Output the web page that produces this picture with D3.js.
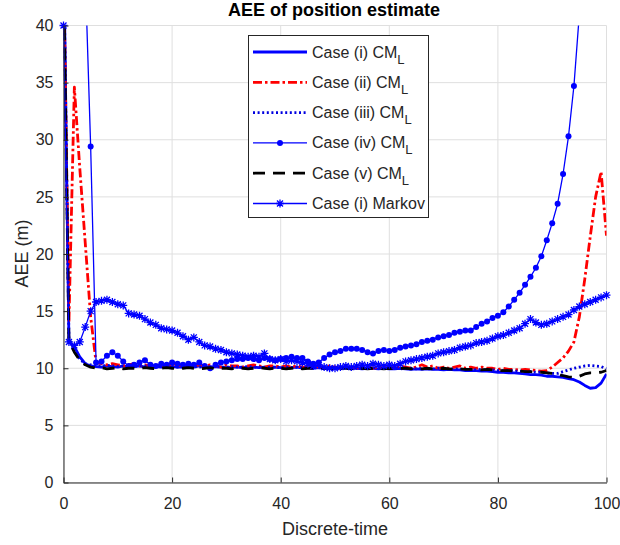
<!DOCTYPE html>
<html><head><meta charset="utf-8">
<script src="https://cdn.jsdelivr.net/npm/d3@7"></script>
<style>
body{margin:0;background:#fff}
svg{display:block}
text{font-family:"Liberation Sans",Arial,Helvetica,sans-serif}
</style>
</head><body>
<svg id="chart" width="620" height="545"></svg>
<script>
// ---- data ----
const timeSteps = d3.range(0, 101);
const xTicks = [0, 20, 40, 60, 80, 100];
const yTicks = [0, 5, 10, 15, 20, 25, 30, 35, 40];

const caseI = [48,12.3,11.9,11.0,10.4,10.2,
10.15,10.1,10.2,10.15,10.1,10.2,10.1,10.15,10.2,10.1,
10.1,10.15,10.1,10.2,10.15,10.1,10.1,10.15,10.1,10.2,
10.1,10.1,10.15,10.1,10.05,10.1,10.1,10.05,10.1,10.1,
10.05,10.1,10.05,10.1,10.05,10.0,10.05,10.1,10.0,10.05,
10.0,10.05,10.0,10.05,10.0,10.0,10.05,10.0,10.0,9.95,
10.0,10.0,9.95,10.0,9.95,9.95,10.0,9.95,9.9,9.95,
9.9,9.95,9.9,9.9,9.85,9.9,9.85,9.85,9.8,9.8,
9.8,9.75,9.75,9.7,9.65,9.65,9.6,9.6,9.55,9.5,
9.45,9.45,9.4,9.3,9.3,9.25,9.2,9.1,9.0,8.8,
8.5,8.25,8.3,8.7,9.5];

const caseII = [46,14,34.6,27.5,21,14.5,
10.5,10.4,10.3,10.4,10.3,10.2,10.3,10.4,10.2,10.3,
10.2,10.3,10.2,10.2,10.4,10.3,10.2,10.3,10.2,10.3,
10.2,10.3,10.2,10.1,10.3,10.2,10.2,10.1,10.2,10.3,
10.2,10.1,10.2,10.2,10.1,10.2,10.1,10.2,10.1,10.1,
10.2,10.1,10.1,10.2,10.1,10.0,10.1,10.1,10.0,10.1,
10.1,10.0,10.1,10.1,10.0,10.1,10.2,10.1,10.0,10.1,
10.3,10.1,10.2,10.0,10.1,10.0,10.1,10.2,10.0,10.1,
10.0,10.1,10.0,10.0,9.9,10.0,9.9,9.9,9.85,9.9,
9.85,9.8,9.75,9.8,10.1,10.5,10.9,11.5,12.3,14.5,
17.8,21.5,25.0,27.2,21.6];

const caseIII = [47,12.6,11.6,10.8,10.4,10.3,
10.2,10.2,10.25,10.2,10.15,10.2,10.2,10.15,10.2,10.2,
10.15,10.2,10.15,10.2,10.15,10.1,10.15,10.2,10.15,10.1,
10.15,10.1,10.15,10.1,10.1,10.15,10.1,10.1,10.15,10.1,
10.1,10.05,10.1,10.1,10.05,10.1,10.05,10.1,10.05,10.05,
10.1,10.05,10.0,10.05,10.05,10.0,10.05,10.0,10.05,10.0,
10.0,10.05,10.0,10.0,10.05,10.0,9.95,10.0,10.0,9.95,
10.0,9.95,9.95,10.0,9.95,9.9,9.95,9.9,9.9,9.9,
9.85,9.9,9.85,9.85,9.8,9.8,9.8,9.75,9.75,9.7,
9.7,9.65,9.65,9.6,9.55,9.55,9.7,9.85,10.0,10.1,
10.2,10.25,10.2,10.15,9.95];

const caseIV = [60,58,55,50,44.6,29.4,10.5,10.6,11.1,11.4,
11.1,10.6,10.2,10.3,10.5,10.7,10.3,10.2,10.4,10.3,
10.5,10.4,10.3,10.4,10.3,10.5,10.2,10.0,10.3,10.5,
10.6,10.7,10.8,10.8,10.9,10.8,10.7,10.9,10.8,10.7,
10.8,10.9,11.0,10.9,10.9,10.6,10.4,10.5,10.9,11.2,
11.4,11.5,11.7,11.7,11.7,11.6,11.4,11.3,11.5,11.6,
11.5,11.6,11.8,11.9,12.0,12.1,12.3,12.4,12.5,12.7,
12.8,12.9,13.1,13.2,13.3,13.3,13.6,13.9,14.1,14.4,
14.6,14.9,15.4,16.0,16.6,17.3,18.0,18.8,19.8,21.2,
22.7,24.4,27.0,30.3,34.7,41,48,56,65,75,86];

const caseV = [45,12.4,11.4,10.7,10.3,10.1,
10.0,10.05,9.95,10.0,10.05,9.95,10.0,10.0,9.95,10.05,
10.0,9.95,10.0,10.05,10.0,9.95,10.0,10.05,10.0,9.95,
10.0,10.05,9.95,10.0,10.0,9.95,10.05,10.0,9.95,10.0,
10.05,10.0,9.95,10.0,10.0,9.95,10.0,10.05,9.95,10.0,
10.0,9.95,10.0,10.0,9.95,10.0,10.0,9.95,10.0,10.0,
9.95,10.0,10.0,9.95,10.0,9.95,10.0,10.0,9.95,10.0,
9.95,10.0,9.95,9.95,10.0,9.95,9.9,9.95,9.9,9.9,
9.9,9.85,9.9,9.85,9.8,9.8,9.8,9.75,9.75,9.7,
9.7,9.65,9.65,9.6,9.55,9.45,9.35,9.25,9.2,9.3,
9.5,9.6,9.6,9.65,9.8];

const markov = [40,12.3,12.0,12.3,13.6,15.0,15.8,15.9,16.0,15.8,
15.6,15.5,14.8,14.7,14.6,14.3,14.0,13.8,13.5,13.4,
13.3,13.1,12.8,12.5,12.7,12.3,12.0,11.9,11.7,11.6,
11.4,11.3,11.2,11.1,11.0,11.1,11.0,11.3,10.8,10.7,
10.8,10.6,10.7,10.6,10.5,10.4,10.2,10.3,10.1,10.0,
10.0,10.1,10.2,10.1,10.2,10.3,10.2,10.4,10.3,10.2,
10.3,10.2,10.4,10.6,10.7,10.8,10.9,11.0,11.1,11.3,
11.4,11.5,11.6,11.8,11.9,12.0,12.2,12.3,12.4,12.6,
12.8,12.9,13.1,13.3,13.5,13.9,14.3,14.0,13.8,13.9,
14.1,14.3,14.5,14.7,15.1,15.4,15.6,15.8,16.0,16.2,16.4];

const seriesNames = ["Case (i) CM","Case (ii) CM","Case (iii) CM","Case (iv) CM","Case (v) CM","Case (i) Markov"];
const seriesSubs = ["L","L","L","L","L",""];

// ---- chart ----
const svg = d3.select("#chart");
const x = d3.scaleLinear().domain([0,100]).range([63.5,606.5]);
const y = d3.scaleLinear().domain([0,40]).range([482.5,25.5]);
const axisColor = "#262626";

// grid
svg.append("g").selectAll("line").data(xTicks).join("line")
  .attr("x1", d=>x(d)).attr("x2", d=>x(d)).attr("y1", y(0)).attr("y2", y(40))
  .attr("stroke","#dfdfdf").attr("stroke-width",1);
svg.append("g").selectAll("line").data(yTicks).join("line")
  .attr("y1", d=>y(d)).attr("y2", d=>y(d)).attr("x1", x(0)).attr("x2", x(100))
  .attr("stroke","#dfdfdf").attr("stroke-width",1);

svg.append("defs").append("clipPath").attr("id","clip")
  .append("rect").attr("x",x(0)).attr("y",y(40)).attr("width",x(100)-x(0)).attr("height",y(0)-y(40));

const styles = [
  {data:caseI, color:"#0000ff", width:2.8, dash:null, marker:null},
  {data:caseII, color:"#ff0000", width:2.8, dash:"9,3,2.5,3", marker:null},
  {data:caseIII, color:"#0000e0", width:2.8, dash:"2,2.6", marker:null},
  {data:caseIV, color:"#0000ff", width:1.3, dash:null, marker:"dot"},
  {data:caseV, color:"#000000", width:2.8, dash:"12,8", marker:null},
  {data:markov, color:"#0000ff", width:1.3, dash:null, marker:"star"}
];

const line = d3.line().x((d,i)=>x(timeSteps[i])).y(d=>y(d));
const starPath = "M-4,0H4M0,-4V4M-3,-3L3,3M-3,3L3,-3";

const plot = svg.append("g");
styles.forEach(s => {
  plot.append("path").attr("d", line(s.data)).attr("fill","none")
    .attr("stroke", s.color).attr("stroke-width", s.width)
    .attr("stroke-dasharray", s.dash).attr("stroke-linejoin","round")
    .attr("clip-path","url(#clip)");
  const pts = s.data.map((v,i)=>[timeSteps[i], v]).filter(p=>p[1] <= 40);
  if (s.marker === "dot") {
    plot.append("g").selectAll("circle").data(pts).join("circle")
      .attr("cx", p=>x(p[0])).attr("cy", p=>y(p[1])).attr("r", 3).attr("fill", s.color);
  } else if (s.marker === "star") {
    plot.append("g").selectAll("path").data(pts).join("path")
      .attr("d", starPath).attr("transform", p=>`translate(${x(p[0])},${y(p[1])})`)
      .attr("stroke", s.color).attr("stroke-width", 1.3).attr("fill","none");
  }
});

// axes
const gx = svg.append("g").attr("transform", `translate(0,${y(0)})`)
  .call(d3.axisBottom(x).tickValues(xTicks).tickSizeInner(-5).tickSizeOuter(0).tickPadding(15));
const gy = svg.append("g").attr("transform", `translate(${x(0)},0)`)
  .call(d3.axisLeft(y).tickValues(yTicks).tickSizeInner(-5).tickSizeOuter(0).tickPadding(10));
[gx, gy].forEach(g => {
  g.select(".domain").attr("stroke", axisColor);
  g.selectAll(".tick line").attr("stroke", axisColor);
  g.selectAll(".tick text").attr("fill", axisColor)
    .style("font-family",'"Liberation Sans",Arial,sans-serif').style("font-size","16px");
});

// titles
svg.append("text").attr("x", 334).attr("y", 15.5).attr("text-anchor","middle")
  .style("font-size","18px").style("font-weight","bold").attr("fill","#000").text("AEE of position estimate");
svg.append("text").attr("x", 335).attr("y", 535).attr("text-anchor","middle")
  .style("font-size","18px").attr("fill", axisColor).text("Discrete-time");
svg.append("text").attr("transform","translate(28,253.5) rotate(-90)").attr("text-anchor","middle")
  .style("font-size","18px").attr("fill", axisColor).text("AEE (m)");

// legend
const lg = svg.append("g");
lg.append("rect").attr("x",248.5).attr("y",35.5).attr("width",180).attr("height",182)
  .attr("fill","#fff").attr("stroke","#262626").attr("stroke-width",1);
styles.forEach((s,i) => {
  const ry = 52 + i*30.3;
  lg.append("line").attr("x1",253).attr("x2",307).attr("y1",ry).attr("y2",ry)
    .attr("stroke", s.color).attr("stroke-width", s.width).attr("stroke-dasharray", s.dash);
  if (s.marker === "dot") lg.append("circle").attr("cx",280).attr("cy",ry).attr("r",3).attr("fill",s.color);
  if (s.marker === "star") lg.append("path").attr("d",starPath).attr("transform",`translate(280,${ry})`)
    .attr("stroke",s.color).attr("stroke-width",1.3).attr("fill","none");
  const t = lg.append("text").attr("x",312).attr("y",ry+5.5).style("font-size","16px").attr("fill","#262626");
  t.append("tspan").text(seriesNames[i]);
  if (seriesSubs[i]) t.append("tspan").attr("dy",6).style("font-size","13px").text(seriesSubs[i]);
});
</script>
</body></html>
